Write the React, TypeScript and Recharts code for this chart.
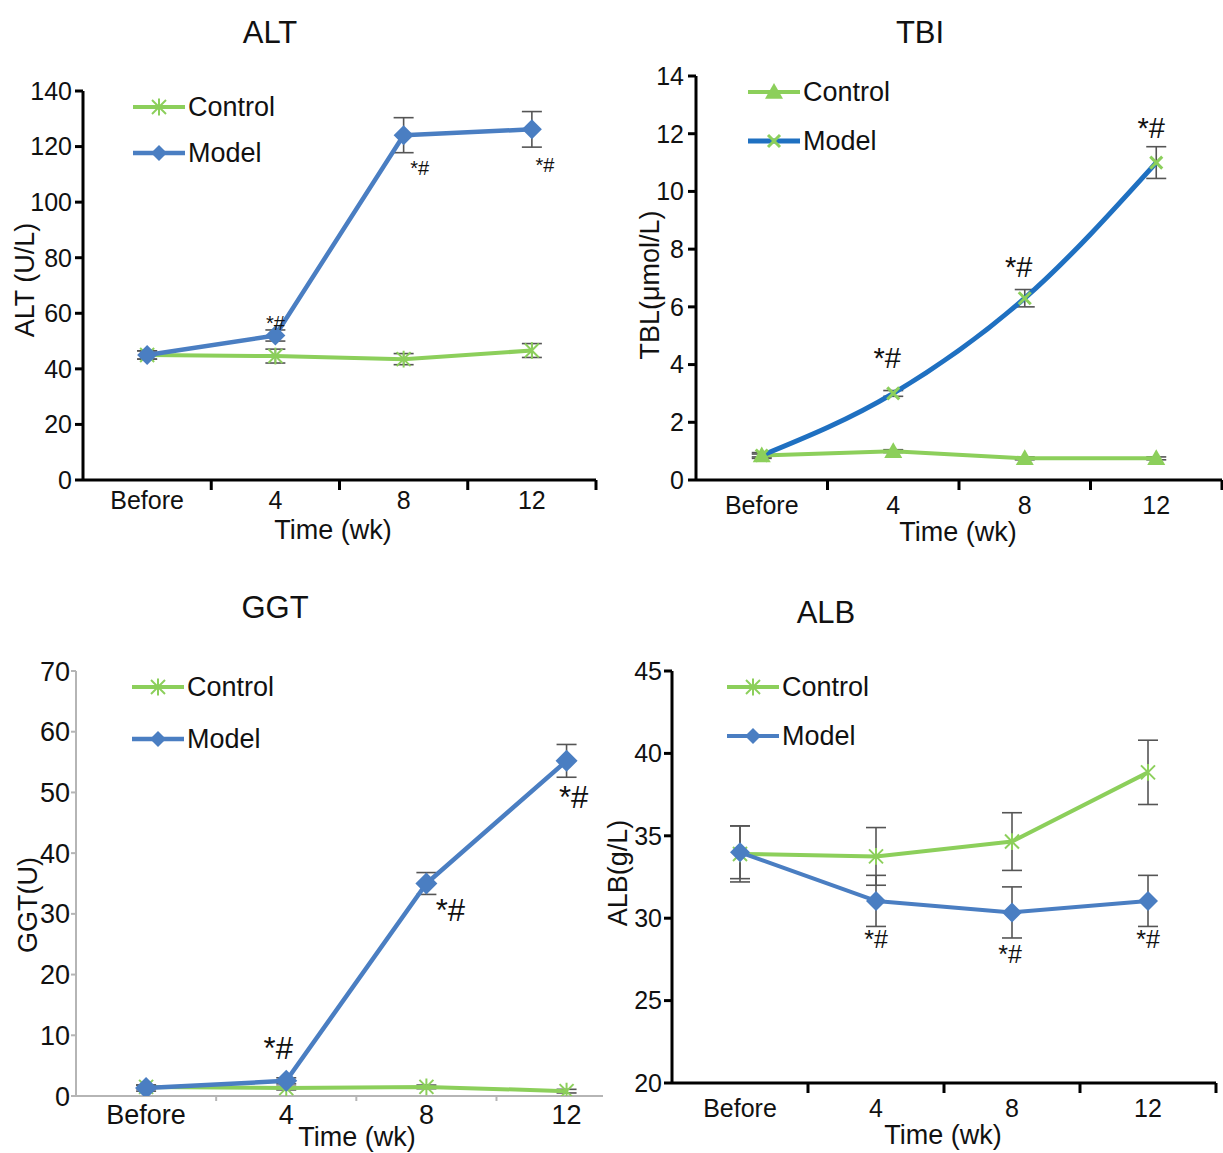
import React from 'react';
import { LineChart, Line, XAxis, YAxis, ErrorBar, LabelList, Legend } from 'recharts';

const FONT = '"Liberation Sans", Arial, Helvetica, sans-serif';
const GREEN = '#8ccf5b';
const BLUE = '#4a7ec2';
const BLUE_TBI = '#1f70c1';
const ERR = '#555555';
const INK = '#111111';

// shared x categories, placed at the middle of each band of a 0..4 numeric axis
const timeLabels = ['Before', '4', '8', '12'];
const timeSlots = [0.5, 1.5, 2.5, 3.5];

// ALT (U/L)
const altControl = [45, 44.6, 43.5, 46.6];
const altControlErr = [1.5, 2.5, 2, 2.5];
const altModel = [45, 52, 124.1, 126.2];
const altModelErr = [1.5, 2, 6.3, 6.4];
const altMarks = ['', '*#', '*#', '*#'];

// TBI (umol/L)
const tbiControl = [0.85, 1.0, 0.75, 0.75];
const tbiControlErr = [0.05, 0.05, 0.05, 0.05];
const tbiModel = [0.85, 3.0, 6.3, 11.0];
const tbiModelErr = [0.1, 0.1, 0.3, 0.55];
const tbiMarks = ['', '*#', '*#', '*#'];

// GGT (U)
const ggtControl = [1.5, 1.3, 1.5, 0.8];
const ggtControlErr = [0.3, 0.3, 0.3, 0.3];
const ggtModel = [1.3, 2.5, 35, 55.2];
const ggtModelErr = [0.5, 0.5, 1.8, 2.7];
const ggtMarks = ['', '*#', '*#', '*#'];

// ALB (g/L)
const albControl = [33.9, 33.75, 34.65, 38.85];
const albControlErr = [1.7, 1.75, 1.75, 1.95];
const albModel = [34.0, 31.05, 30.35, 31.05];
const albModelErr = [1.6, 1.55, 1.55, 1.55];
const albMarks = ['', '*#', '*#', '*#'];

const rows = (control: number[], controlErr: number[], model: number[], modelErr: number[], marks: string[]) =>
  timeSlots.map((t, i) => ({
    t,
    control: control[i],
    controlErr: controlErr[i],
    model: model[i],
    modelErr: modelErr[i],
    mark: marks[i],
  }));

type Shape = 'diamond' | 'star' | 'triangle' | 'cross';

const Marker = ({ shape, cx, cy, color, size }: { shape: Shape; cx: number; cy: number; color: string; size: number }) => {
  if (cx == null || cy == null) return null;
  if (shape === 'diamond') {
    return <polygon points={`${cx},${cy - size} ${cx + size},${cy} ${cx},${cy + size} ${cx - size},${cy}`} fill={color} />;
  }
  if (shape === 'triangle') {
    return <polygon points={`${cx},${cy - size} ${cx + size},${cy + size * 0.75} ${cx - size},${cy + size * 0.75}`} fill={color} />;
  }
  if (shape === 'cross') {
    return (
      <g stroke={color} strokeWidth={3}>
        <line x1={cx - size} y1={cy - size} x2={cx + size} y2={cy + size} />
        <line x1={cx - size} y1={cy + size} x2={cx + size} y2={cy - size} />
      </g>
    );
  }
  return (
    <g stroke={color} strokeWidth={2}>
      <line x1={cx - size} y1={cy - size} x2={cx + size} y2={cy + size} />
      <line x1={cx - size} y1={cy + size} x2={cx + size} y2={cy - size} />
      <line x1={cx} y1={cy - size * 1.2} x2={cx} y2={cy + size * 1.2} />
    </g>
  );
};

interface SeriesStyle {
  name: string;
  color: string;
  markerColor: string;
  shape: Shape;
  markerSize: number;
  width: number;
  curve: 'linear' | 'monotone';
}

interface PanelCfg {
  data: ReturnType<typeof rows>;
  box: { left: number; top: number; width: number; height: number };
  margin: { top: number; right: number; bottom: number; left: number };
  yAxisWidth: number;
  xAxisHeight: number;
  xMax: number;
  xTicks: number[];
  yDomain: [number, number];
  yTicks: number[];
  axisColor: string;
  axisWidth: number;
  yTickLen: number;
  yTickMargin: number;
  xTickLen: number;
  xLabelDy: number;
  tickFont: number;
  title: { text: string; x: number; y: number };
  yTitle: { text: string; x: number; y: number };
  xTitle: { text: string; x: number; y: number };
  legend: { x: number; y: number; gap: number };
  control: SeriesStyle;
  model: SeriesStyle;
  markFont: number;
  markOffsets: [number, number][];
}

const ALT: PanelCfg = {
  data: rows(altControl, altControlErr, altModel, altModelErr, altMarks),
  box: { left: 0, top: 60, width: 610, height: 500 },
  margin: { top: 31, right: 14, bottom: 10, left: 0 },
  yAxisWidth: 83,
  xAxisHeight: 70,
  xMax: 4,
  xTicks: [0.5, 1, 1.5, 2, 2.5, 3, 3.5, 4],
  yDomain: [0, 140],
  yTicks: [0, 20, 40, 60, 80, 100, 120, 140],
  axisColor: '#000',
  axisWidth: 3,
  yTickLen: 8,
  yTickMargin: 3,
  xTickLen: 10,
  xLabelDy: 20,
  tickFont: 25,
  title: { text: 'ALT', x: 270, y: 32 },
  yTitle: { text: 'ALT (U/L)', x: 25, y: 280 },
  xTitle: { text: 'Time (wk)', x: 333, y: 530 },
  legend: { x: 133, y: 107, gap: 46 },
  control: { name: 'Control', color: GREEN, markerColor: GREEN, shape: 'star', markerSize: 7, width: 4, curve: 'linear' },
  model: { name: 'Model', color: BLUE, markerColor: BLUE, shape: 'diamond', markerSize: 10, width: 4.5, curve: 'linear' },
  markFont: 20,
  markOffsets: [[0, 0], [0, -13], [16, 33], [13, 36]],
};

const TBI: PanelCfg = {
  data: rows(tbiControl, tbiControlErr, tbiModel, tbiModelErr, tbiMarks),
  box: { left: 610, top: 50, width: 613, height: 510 },
  margin: { top: 26, right: 1, bottom: 10, left: 0 },
  yAxisWidth: 86,
  xAxisHeight: 70,
  xMax: 4,
  xTicks: [0.5, 1, 1.5, 2, 2.5, 3, 3.5, 4],
  yDomain: [0, 14],
  yTicks: [0, 2, 4, 6, 8, 10, 12, 14],
  axisColor: '#000',
  axisWidth: 3,
  yTickLen: 8,
  yTickMargin: 4,
  xTickLen: 10,
  xLabelDy: 25,
  tickFont: 25,
  title: { text: 'TBI', x: 920, y: 32 },
  yTitle: { text: 'TBL(μmol/L)', x: 650, y: 285 },
  xTitle: { text: 'Time (wk)', x: 958, y: 532 },
  legend: { x: 748, y: 92, gap: 49 },
  control: { name: 'Control', color: GREEN, markerColor: GREEN, shape: 'triangle', markerSize: 9, width: 4, curve: 'linear' },
  model: { name: 'Model', color: BLUE_TBI, markerColor: GREEN, shape: 'cross', markerSize: 6, width: 5, curve: 'monotone' },
  markFont: 29,
  markOffsets: [[0, 0], [-6, -36], [-6, -31], [-5, -35]],
};

const GGT: PanelCfg = {
  data: rows(ggtControl, ggtControlErr, ggtModel, ggtModelErr, ggtMarks),
  box: { left: 0, top: 640, width: 610, height: 513 },
  margin: { top: 31, right: 7, bottom: 7, left: 0 },
  yAxisWidth: 76,
  xAxisHeight: 50,
  xMax: 3.76,
  xTicks: [0.5, 1, 1.5, 2, 2.5, 3, 3.5],
  yDomain: [0, 70],
  yTicks: [0, 10, 20, 30, 40, 50, 60, 70],
  axisColor: '#b5b5b5',
  axisWidth: 2,
  yTickLen: 5,
  yTickMargin: 1,
  xTickLen: 5,
  xLabelDy: 19,
  tickFont: 27,
  title: { text: 'GGT', x: 275, y: 607 },
  yTitle: { text: 'GGT(U)', x: 28, y: 905 },
  xTitle: { text: 'Time (wk)', x: 357, y: 1137 },
  legend: { x: 132, y: 687, gap: 52 },
  control: { name: 'Control', color: GREEN, markerColor: GREEN, shape: 'star', markerSize: 7, width: 4, curve: 'linear' },
  model: { name: 'Model', color: BLUE, markerColor: BLUE, shape: 'diamond', markerSize: 11, width: 4.5, curve: 'linear' },
  markFont: 31,
  markOffsets: [[0, 0], [-8, -33], [24, 27], [7, 36]],
};

const ALB: PanelCfg = {
  data: rows(albControl, albControlErr, albModel, albModelErr, albMarks),
  box: { left: 610, top: 640, width: 613, height: 513 },
  margin: { top: 31, right: 7, bottom: 10, left: 0 },
  yAxisWidth: 62,
  xAxisHeight: 60,
  xMax: 4,
  xTicks: [0.5, 1, 1.5, 2, 2.5, 3, 3.5, 4],
  yDomain: [20, 45],
  yTicks: [20, 25, 30, 35, 40, 45],
  axisColor: '#000',
  axisWidth: 3,
  yTickLen: 8,
  yTickMargin: 2,
  xTickLen: 10,
  xLabelDy: 25,
  tickFont: 25,
  title: { text: 'ALB', x: 826, y: 612 },
  yTitle: { text: 'ALB(g/L)', x: 618, y: 873 },
  xTitle: { text: 'Time (wk)', x: 943, y: 1135 },
  legend: { x: 727, y: 687, gap: 49 },
  control: { name: 'Control', color: GREEN, markerColor: GREEN, shape: 'star', markerSize: 7, width: 4, curve: 'linear' },
  model: { name: 'Model', color: BLUE, markerColor: BLUE, shape: 'diamond', markerSize: 10, width: 4, curve: 'linear' },
  markFont: 25,
  markOffsets: [[0, 0], [0, 38], [-2, 42], [0, 38]],
};

const PANELS = [ALT, TBI, GGT, ALB];

const pageText = (text: string, x: number, y: number, size: number, rotate = false) => (
  <div
    key={text + x}
    style={{
      position: 'absolute',
      left: x,
      top: y,
      transform: `translate(-50%, -50%)${rotate ? ' rotate(-90deg)' : ''}`,
      whiteSpace: 'nowrap',
      fontFamily: FONT,
      fontSize: size,
      color: INK,
      lineHeight: 1,
    }}
  >
    {text}
  </div>
);

const LegendRows = ({ cfg }: { cfg: PanelCfg }) => (
  <div>
    {[cfg.control, cfg.model].map((s) => (
      <div key={s.name} style={{ display: 'flex', alignItems: 'center', height: cfg.legend.gap }}>
        <svg width={56} height={26}>
          <line x1={2} x2={54} y1={13} y2={13} stroke={s.color} strokeWidth={s.width} />
          <Marker shape={s.shape} cx={28} cy={13} color={s.markerColor} size={s.shape === 'diamond' ? 8 : s.markerSize} />
        </svg>
        <span style={{ fontFamily: FONT, fontSize: 27, color: INK, marginLeft: 1 }}>{s.name}</span>
      </div>
    ))}
  </div>
);

const Panel = ({ cfg }: { cfg: PanelCfg }) => {
  const xTick = (props: any) => {
    const { x, y, payload } = props;
    const v = payload.value as number;
    if (Math.abs(v - Math.round(v)) < 1e-6) {
      return <line x1={x} x2={x} y1={y} y2={y + cfg.xTickLen} stroke={cfg.axisColor} strokeWidth={cfg.axisWidth} />;
    }
    return (
      <text x={x} y={y + cfg.xLabelDy} dy="0.35em" textAnchor="middle" fontSize={cfg.tickFont} fontFamily={FONT} fill={INK}>
        {timeLabels[Math.floor(v)]}
      </text>
    );
  };

  const markLabel = (props: any) => {
    const x = props.x ?? props.viewBox?.x;
    const y = props.y ?? props.viewBox?.y;
    const { value, index } = props;
    if (!value || x == null) return null;
    const [dx, dy] = cfg.markOffsets[index] || [0, 0];
    return (
      <text x={x + dx} y={y + dy} dy="0.35em" textAnchor="middle" fontSize={cfg.markFont} fontFamily={FONT} fill={INK}>
        {value}
      </text>
    );
  };

  const series = (key: 'control' | 'model', s: SeriesStyle) => (
    <Line
      key={key}
      type={s.curve}
      dataKey={key}
      stroke={s.color}
      strokeWidth={s.width}
      strokeLinejoin="round"
      isAnimationActive={false}
      activeDot={false}
      dot={(p: any) => <Marker key={`${key}-${p.index}`} shape={s.shape} cx={p.cx} cy={p.cy} color={s.markerColor} size={s.markerSize} />}
    >
      <ErrorBar dataKey={`${key}Err`} width={10} stroke={ERR} strokeWidth={1.6} direction="y" isAnimationActive={false} />
      {key === 'model' && <LabelList dataKey="mark" content={markLabel} />}
    </Line>
  );

  return (
    <div style={{ position: 'absolute', left: cfg.box.left, top: cfg.box.top }}>
      <LineChart width={cfg.box.width} height={cfg.box.height} data={cfg.data} margin={cfg.margin}>
        <XAxis
          type="number"
          dataKey="t"
          domain={[0, cfg.xMax]}
          ticks={cfg.xTicks}
          interval={0}
          tickSize={0}
          tickMargin={0}
          tickLine={false}
          axisLine={{ stroke: cfg.axisColor, strokeWidth: cfg.axisWidth }}
          tick={xTick}
          height={cfg.xAxisHeight}
          allowDataOverflow
        />
        <YAxis
          type="number"
          domain={cfg.yDomain}
          ticks={cfg.yTicks}
          interval={0}
          width={cfg.yAxisWidth}
          tickSize={cfg.yTickLen}
          tickMargin={cfg.yTickMargin}
          axisLine={{ stroke: cfg.axisColor, strokeWidth: cfg.axisWidth }}
          tickLine={{ stroke: cfg.axisColor, strokeWidth: cfg.axisWidth }}
          tick={{ fontSize: cfg.tickFont, fill: INK, fontFamily: FONT }}
          allowDataOverflow
        />
        <Legend
          layout="vertical"
          align="center"
          verticalAlign="middle"
          wrapperStyle={{
            left: cfg.legend.x - cfg.box.left - 2,
            top: cfg.legend.y - cfg.box.top - cfg.legend.gap / 2,
            width: 'auto',
          }}
          content={() => <LegendRows cfg={cfg} />}
        />
        {series('control', cfg.control)}
        {series('model', cfg.model)}
      </LineChart>
    </div>
  );
};

export default function App() {
  return (
    <div style={{ position: 'absolute', left: 0, top: 0, width: 1223, height: 1153, background: '#fff', overflow: 'hidden' }}>
      {PANELS.map((cfg) => (
        <Panel key={cfg.title.text} cfg={cfg} />
      ))}
      {PANELS.map((cfg) => pageText(cfg.title.text, cfg.title.x, cfg.title.y, 31))}
      {PANELS.map((cfg) => pageText(cfg.yTitle.text, cfg.yTitle.x, cfg.yTitle.y, 27, true))}
      {PANELS.map((cfg) => pageText(cfg.xTitle.text, cfg.xTitle.x, cfg.xTitle.y, 27))}
    </div>
  );
}
